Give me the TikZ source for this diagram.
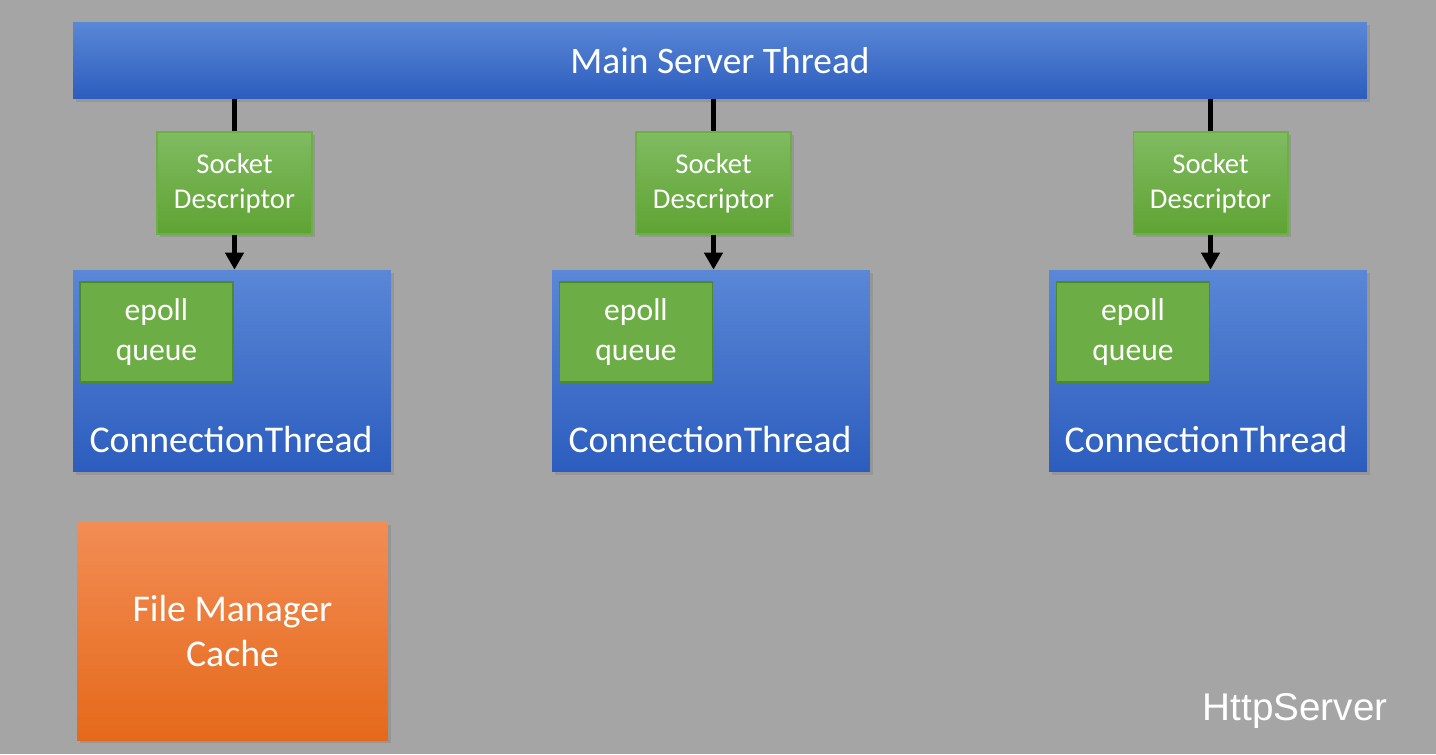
\documentclass[tikz,border=0pt]{standalone}
\usepackage{fontspec}
\setmainfont{Carlito}
\newfontfamily\helvfont{Liberation Sans}
\usepackage{tikz}
\usetikzlibrary{arrows.meta}
\usetikzlibrary{shadows}
\definecolor{bggray}{HTML}{A5A5A5}
\definecolor{blueT}{HTML}{5A87D6}
\definecolor{blueB}{HTML}{2C5DBE}
\definecolor{greenT}{HTML}{80BB61}
\definecolor{greenB}{HTML}{5FA333}
\definecolor{greenL}{HTML}{6DAE47}
\definecolor{epollF}{HTML}{6CAD45}
\definecolor{epollL}{HTML}{4C8A2C}
\definecolor{orangeT}{HTML}{F28D55}
\definecolor{orangeB}{HTML}{E5691A}

\begin{document}
\begin{tikzpicture}[x=0.02cm,y=-0.02cm,>={Triangle[length=0.34cm,width=0.36cm]},
	box/.style={inner sep=0pt,align=center,text=white,drop shadow={shadow xshift=0.06cm,shadow yshift=-0.06cm,opacity=0.4}},
	bluebox/.style={box,top color=blueT,bottom color=blueB},
	sockbox/.style={box,top color=greenT,bottom color=greenB,draw=greenL,line width=0.6pt,minimum width=3.1cm,minimum height=2.04cm,font=\fontsize{16.3}{20}\selectfont},
	epollbox/.style={inner sep=0pt,align=center,text=white,fill=epollF,draw=epollL,line width=1pt,minimum width=3.06cm,minimum height=2cm,font=\fontsize{18}{22.8}\selectfont},
	connbox/.style={bluebox,minimum width=6.36cm,minimum height=4.04cm},
	bigtext/.style={text=white,font=\fontsize{21.5}{25.6}\selectfont,align=center},
	link/.style={line width=0.1cm}]
			\useasboundingbox (0,0) rectangle (1436,754);
			\fill[bggray] (0,0) rectangle (1436,754);
			\node[bluebox,minimum width=25.88cm,minimum height=1.54cm,font=\fontsize{21.3}{26}\selectfont] (main) at (720,60.5) {Main Server Thread};
			\node[sockbox] (sock1) at (234.5,183) {Socket\\Descriptor};
			\node[sockbox] (sock2) at (713.5,183) {Socket\\Descriptor};
			\node[sockbox] (sock3) at (1210.5,183) {Socket\\Descriptor};
			\node[connbox] (conn1) at (232,371) {};
			\node[connbox] (conn2) at (711,371) {};
			\node[connbox] (conn3) at (1208,371) {};
			\node[epollbox] (epoll1) at (156.5,332) {epoll\\queue};
			\node[epollbox] (epoll2) at (636,332) {epoll\\queue};
			\node[epollbox] (epoll3) at (1133,332) {epoll\\queue};
			\node[bigtext] (ct1) at (231,440) {ConnectionThread};
			\node[bigtext] (ct2) at (710,440) {ConnectionThread};
			\node[bigtext] (ct3) at (1206,440) {ConnectionThread};
			\node[box,top color=orangeT,bottom color=orangeB,minimum width=6.22cm,minimum height=4.38cm,font=\fontsize{21.5}{25.6}\selectfont] (cache) at (232.5,631) {File Manager\\Cache};
			\node[text=white,font=\helvfont\fontsize{22}{26}\selectfont] (brand) at (1295,711) {HttpServer};
			\draw[link] (main.south -| sock1.north)--(sock1.north);
			\draw[link] (main.south -| sock2.north)--(sock2.north);
			\draw[link] (main.south -| sock3.north)--(sock3.north);
			\draw[link,->] (sock1.south)--(conn1.north -| sock1.south);
			\draw[link,->] (sock2.south)--(conn2.north -| sock2.south);
			\draw[link,->] (sock3.south)--(conn3.north -| sock3.south);
		\end{tikzpicture}
\end{document}
